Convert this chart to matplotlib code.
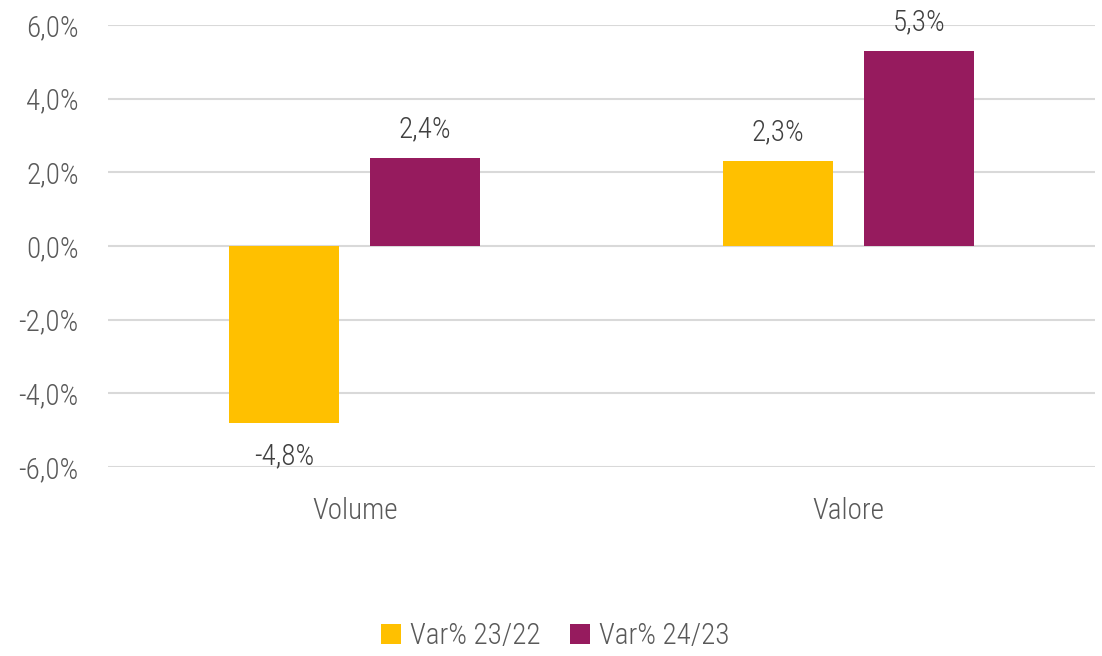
import matplotlib
matplotlib.use("Agg")
import matplotlib.pyplot as plt
import numpy as np
from matplotlib.ticker import FuncFormatter

plt.rcParams['font.family'] = ['Roboto Condensed', 'Liberation Sans Narrow', 'Roboto', 'DejaVu Sans']
plt.rcParams['font.weight'] = 'light'

categories = ["Volume", "Valore"]
series_names = ["Var% 23/22", "Var% 24/23"]
var_23_22 = [-4.8, 2.3]
var_24_23 = [2.4, 5.3]
colors = ["#FFC000", "#961B5E"]
yticks = [-6, -4, -2, 0, 2, 4, 6]

FS = 21
fig = plt.figure(figsize=(11.02, 6.56), dpi=100)
ax = fig.add_axes([0.098, 0.288, 0.8956, 0.6739])

x = np.arange(len(categories))
w = 0.223
gap = 0.063
off = (w + gap) / 2
tc = "#595959"
for vals, c, o, name in [(var_23_22, colors[0], -off, series_names[0]),
                         (var_24_23, colors[1], off, series_names[1])]:
    bars = ax.bar(x + o, vals, width=w, color=c, label=name, zorder=3)
    for b, v in zip(bars, vals):
        lab = f"{v:.1f}%".replace(".", ",")
        if v >= 0:
            ax.annotate(lab, (b.get_x() + b.get_width() / 2, v), xytext=(0, 10.5),
                        textcoords="offset points", ha="center", va="bottom",
                        fontsize=FS, color="#404040", fontweight='light')
        else:
            ax.annotate(lab, (b.get_x() + b.get_width() / 2, v), xytext=(0, -14),
                        textcoords="offset points", ha="center", va="top",
                        fontsize=FS, color="#404040", fontweight='light')

ax.set_xlim(-0.5, 1.5)
ax.set_ylim(-6, 6)
ax.set_yticks(yticks)
ax.yaxis.set_major_formatter(FuncFormatter(lambda v, p: f"{v:.1f}%".replace(".", ",")))
ax.set_xticks(x)
ax.set_xticklabels(categories)
ax.tick_params(axis='both', length=0, labelsize=FS, colors=tc)
ax.tick_params(axis='x', pad=21.5)
ax.tick_params(axis='y', pad=21)
ax.grid(axis='y', color="#D9D9D9", linewidth=1.5, zorder=0)
for s in ax.spines.values():
    s.set_visible(False)

fig.legend(loc="center", bbox_to_anchor=(555 / 1102, 1 - 636 / 656), ncol=2,
           frameon=False, fontsize=FS, labelcolor=tc, handlelength=0.7,
           handleheight=0.7, handletextpad=0.3, columnspacing=1.0)

fig.savefig("out.png", dpi=100)
